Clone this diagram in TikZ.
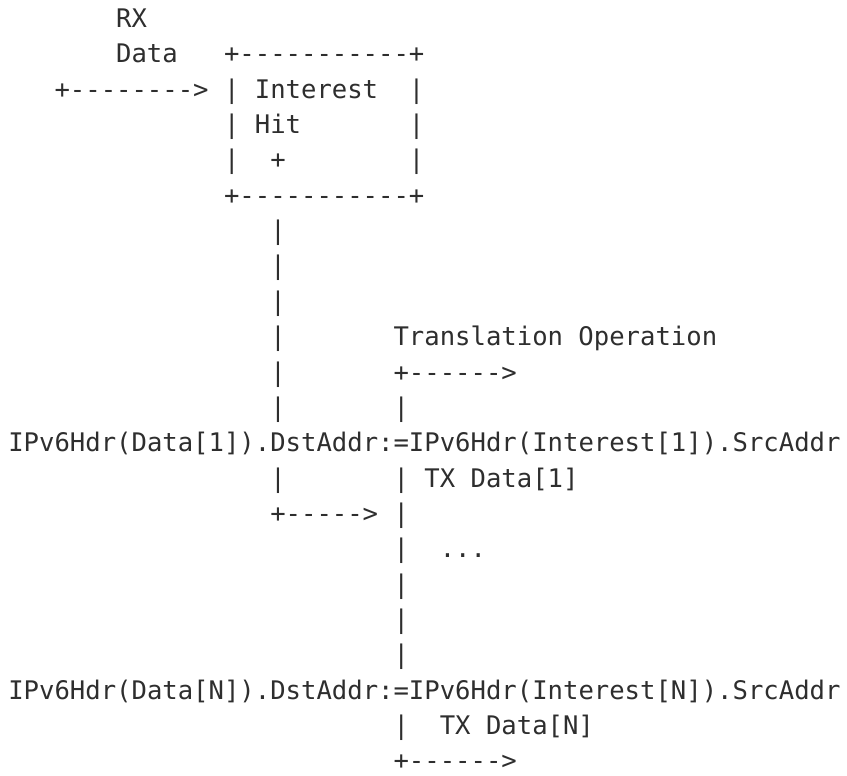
\documentclass[tikz,border=0pt]{standalone}
\usepackage{fontspec}
\setmonofont{DejaVu Sans Mono}

\begin{document}
\begin{tikzpicture}[
  x=1pt,y=1pt,
  every node/.style={inner sep=0pt,outer sep=0pt},
  txt/.style={anchor=base west,text=black!82,font=\ttfamily\fontsize{25.6}{30}\selectfont},
]
\def\cw{15.41}
\def\lh{35.35}
\useasboundingbox (-8.3,27.5) rectangle (838.7,-748.5);
% ================= RX data and Interest hit box =================
\node[txt] (rx) at ({7*\cw},{-0*\lh}) {RX};
\node[txt] (rxdata) at ({7*\cw},{-1*\lh}) {Data};
\node[txt] (boxtop) at ({14*\cw},{-1*\lh}) {+-----------+};
\node[txt] (rxarrow) at ({3*\cw},{-2*\lh}) {+-------->};
\node[txt] (boxlA) at ({14*\cw},{-2*\lh}) {|};
\node[txt] (interest) at ({16*\cw},{-2*\lh}) {Interest};
\node[txt] (boxrA) at ({26*\cw},{-2*\lh}) {|};
\node[txt] (boxlB) at ({14*\cw},{-3*\lh}) {|};
\node[txt] (hit) at ({16*\cw},{-3*\lh}) {Hit};
\node[txt] (boxrB) at ({26*\cw},{-3*\lh}) {|};
\node[txt] (boxlC) at ({14*\cw},{-4*\lh}) {|};
\node[txt] (hitplus) at ({17*\cw},{-4*\lh}) {+};
\node[txt] (boxrC) at ({26*\cw},{-4*\lh}) {|};
\node[txt] (boxbot) at ({14*\cw},{-5*\lh}) {+-----------+};
% ================= left trunk =================
\foreach \r in {6,...,11}
  \node[txt] (trunk\r) at ({17*\cw},{-\r*\lh}) {|};
\node[txt] (trunkD) at ({17*\cw},{-13*\lh}) {|};
\node[txt] (trunkout) at ({17*\cw},{-14*\lh}) {+----->};
% ================= translation operation =================
\node[txt] (transl) at ({25*\cw},{-9*\lh}) {Translation Operation};
\node[txt] (translarrow) at ({25*\cw},{-10*\lh}) {+------>};
\node[txt] (txbarA) at ({25*\cw},{-11*\lh}) {|};
\node[txt] (assignA) at ({0*\cw},{-12*\lh}) {IPv6Hdr(Data[1]).DstAddr:=IPv6Hdr(Interest[1]).SrcAddr};
\node[txt] (txbarB) at ({25*\cw},{-13*\lh}) {|};
\node[txt] (txdataA) at ({27*\cw},{-13*\lh}) {TX Data[1]};
\node[txt] (txbarC) at ({25*\cw},{-14*\lh}) {|};
\node[txt] (txbarD) at ({25*\cw},{-15*\lh}) {|};
\node[txt] (dots) at ({28*\cw},{-15*\lh}) {...};
\foreach \r in {16,17,18}
  \node[txt] (txbar\r) at ({25*\cw},{-\r*\lh}) {|};
\node[txt] (assignN) at ({0*\cw},{-19*\lh}) {IPv6Hdr(Data[N]).DstAddr:=IPv6Hdr(Interest[N]).SrcAddr};
\node[txt] (txbarN) at ({25*\cw},{-20*\lh}) {|};
\node[txt] (txdataN) at ({28*\cw},{-20*\lh}) {TX Data[N]};
\node[txt] (txarrowN) at ({25*\cw},{-21*\lh}) {+------>};
\end{tikzpicture}
\end{document}
